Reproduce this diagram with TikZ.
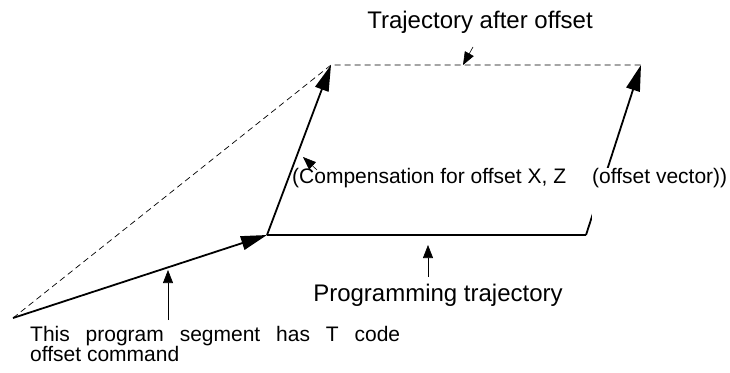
\documentclass[tikz,border=0pt]{standalone}
\usepackage{fontspec}
\setmainfont{Liberation Sans}
\usetikzlibrary{arrows.meta, positioning}

\begin{document}
\begin{tikzpicture}[x=1pt, y=-1pt, font=\fontsize{21}{20}\selectfont,
    mainpath/.style={line width=1.8pt},
    bigtip/.style={mainpath, -{Triangle[length=26pt,width=14pt]}},
    pointer/.style={line width=0.6pt, -{Triangle[length=13pt,width=10pt]}},
    offsetpath/.style={line width=0.7pt, dash pattern=on 6pt off 4pt},
    biglabel/.style={font=\fontsize{24}{28}\selectfont, inner sep=0pt}]
  \useasboundingbox (0,0) rectangle (730,372);
  % corner points of the two trajectories
  \coordinate (start) at (13,318);
  \coordinate (prgA) at (267,235);
  \coordinate (prgB) at (586,235);
  \coordinate (offA) at (331,65);
  \coordinate (offB) at (641,65);
  % trajectory after offset
  \draw[offsetpath] (start) -- (offA) -- (offB);
  % programmed path and offset vectors
  \draw[bigtip] (start) -- (prgA);
  \draw[mainpath] (prgA) -- (prgB);
  \draw[bigtip] (prgA) -- (offA);
  \draw[bigtip] (prgB) -- (offB);
  % labels
  \node[biglabel, anchor=base] (afterlbl) at (480,28) {Trajectory after offset};
  \node[biglabel, anchor=base] (proglbl) at (438,301) {Programming trajectory};
  \node[inner sep=0pt, anchor=base west] (complbl) at (292,183) {(Compensation for offset X, Z};
  \node[inner sep=0pt, fill=white, text depth=38pt, anchor=base west] (veclbl) at (592,183) {(offset vector))};
  \node[inner sep=0pt, align=left, anchor=base west] (seglbl) at (30,361)
    {\makebox[370pt][s]{This program segment has T code}\\offset command};
  % pointers to the paths
  \coordinate (afterend) at (463,65);
  \coordinate (afterbeg) at (473,47);
  \coordinate (compend) at (303,157);
  \coordinate (compbeg) at (317,170);
  \coordinate (progend) at (428,245);
  \coordinate (progbeg) at (428,277);
  \coordinate (segend) at (168,270);
  \coordinate (segbeg) at (168,320);
  \foreach \b/\e in {afterbeg/afterend, compbeg/compend, progbeg/progend, segbeg/segend}
    \draw[pointer] (\b) -- (\e);
\end{tikzpicture}
\end{document}
